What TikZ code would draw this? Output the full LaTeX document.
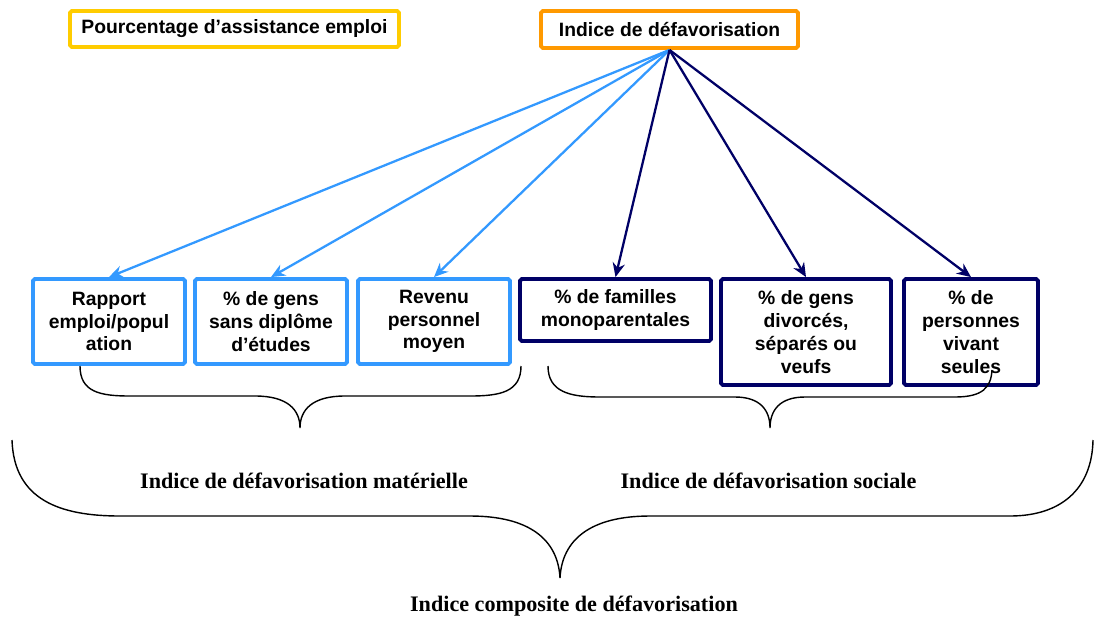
\documentclass[tikz,border=0pt]{standalone}
\usepackage{fontspec}
\setmainfont{Liberation Serif}
\setsansfont{Liberation Sans}
\usepackage{tikz}
\usetikzlibrary{positioning,arrows.meta}

\definecolor{jaune}{RGB}{255,204,0}
\definecolor{orange}{RGB}{255,153,0}
\definecolor{bleuclair}{RGB}{51,153,255}
\definecolor{marine}{RGB}{0,0,102}

\begin{document}
\begin{tikzpicture}[x=0.02cm,y=-0.02cm]
	\tikzset{box/.style={draw,line width=2.2pt,rounded corners=1pt,inner sep=0pt,align=center,
		font=\sffamily\bfseries\fontsize{11}{13}\selectfont}}
	\tikzstyle{matbox}=[box,draw=bleuclair,minimum width=3.04cm,minimum height=1.70cm]
	\tikzstyle{socbox}=[box,draw=marine,minimum height=2.12cm]
	\tikzstyle{titre}=[font=\bfseries\fontsize{12.6}{14}\selectfont]
	\useasboundingbox (0,0) rectangle (1098,619);

	%% top boxes
	\node[box,draw=jaune,minimum width=6.58cm,minimum height=0.72cm] (pae) at (234.5,29) {Pourcentage d’assistance emploi};
	\node[box,draw=orange,minimum width=5.14cm,minimum height=0.74cm] (idx) at (669.5,29.5) {Indice de défavorisation};

	%% indicators
	\node[matbox] (b1) at (109,321.5) {Rapport\\emploi/popul\\ation};
	\node[matbox] (b2) at (271,321.5) {\% de gens\\sans diplôme\\d’études};
	\node[matbox] (b3) at (434,321.5) {Revenu\\personnel\\moyen};
	\node[socbox,minimum width=3.82cm,minimum height=1.24cm] (b4) at (615.5,310) {\% de familles\\monoparentales};
	\node[socbox,minimum width=3.40cm] (b5) at (806,332) {\% de gens\\divorcés,\\séparés ou\\veufs};
	\node[socbox,minimum width=2.68cm] (b6) at (971,332) {\% de\\personnes\\vivant\\seules};

	\path[-{Stealth[length=8pt,width=7pt]},line width=1.3pt]
		(idx.south) edge[draw=bleuclair] (b1.north)
		(idx.south) edge[draw=bleuclair] (b2.north)
		(idx.south) edge[draw=bleuclair] (b3.north)
		(idx.south) edge[draw=marine] (b4.north)
		(idx.south) edge[draw=marine] (b5.north)
		(idx.south) edge[draw=marine] (b6.north);

	%% braces
	\draw[line width=0.8pt] (80,366) .. controls (80,392) and (100,396) .. (130,396) -- (255,396)
		.. controls (288,396) and (300,410) .. (300,428) .. controls (300,410) and (312,396) .. (345,396)
		-- (470,396) .. controls (500,396) and (521,392) .. (521,366);
	\draw[line width=0.8pt] (548,366) .. controls (548,392) and (570,397) .. (600,397) -- (735,397)
		.. controls (760,397) and (770,410) .. (770,428) .. controls (770,410) and (780,397) .. (805,397)
		-- (955,397) .. controls (982,397) and (991,388) .. (992,370);
	\draw[line width=0.8pt] (12,440) .. controls (14,500) and (60,516) .. (120,516) -- (470,516)
		.. controls (530,516) and (558,540) .. (560,578) .. controls (562,540) and (590,516) .. (650,516)
		-- (1010,516) .. controls (1060,516) and (1092,490) .. (1093,440);

	\node[titre] (mat) at (304,481) {Indice de défavorisation matérielle};
	\node[titre] (soc) at (768.5,481) {Indice de défavorisation sociale};
	\node[titre] (comp) at (574,606) {Indice composite de défavorisation};
\end{tikzpicture}
\end{document}
